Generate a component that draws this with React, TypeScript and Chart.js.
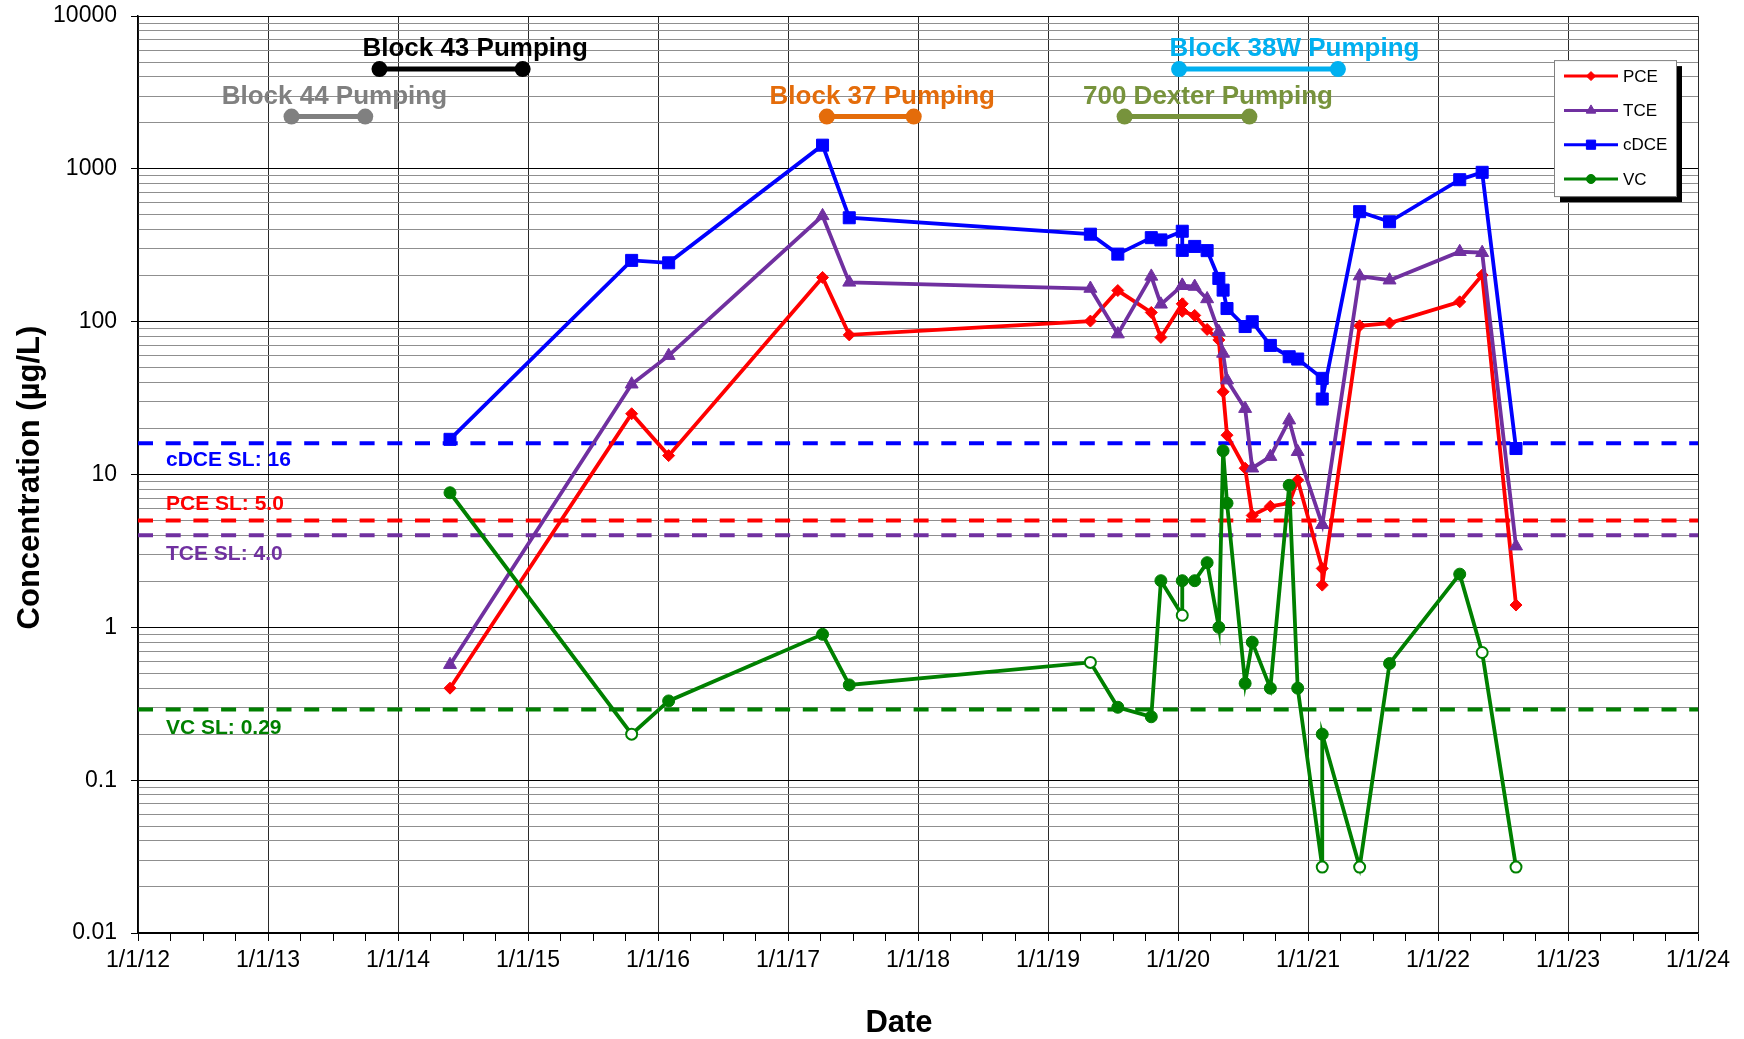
import React, { useEffect, useRef } from 'react';
import { Chart, registerables } from 'chart.js';
import { drawPoint } from 'chart.js/helpers';

Chart.register(...registerables);

// ---------------- DATA ----------------
const sampleDates = [
  '2014-05-27', '2015-10-19', '2016-01-31', '2017-04-08', '2017-06-22',
  '2019-04-30', '2019-07-16', '2019-10-18', '2019-11-14', '2020-01-13',
  '2020-01-13', '2020-02-17', '2020-03-23', '2020-04-25', '2020-05-07',
  '2020-05-18', '2020-07-08', '2020-07-28', '2020-09-17', '2020-11-09',
  '2020-12-03', '2021-02-10', '2021-02-10', '2021-05-26', '2021-08-18',
  '2022-03-03', '2022-05-05', '2022-08-08',
];

const pceValues = [0.4, 25, 13.3, 195, 82, 101, 160, 115, 79, 131, 117, 110, 89, 76, 34.8, 18.1, 11, 5.4, 6.2, 6.5, 9.2, 2.43, 1.89, 94, 98, 135, 202, 1.4];
const tceValues = [0.57, 39, 60, 493, 181, 165, 83, 198, 130, 173, 172, 170, 141, 86, 62, 41.5, 27, 11, 13.1, 22.7, 14.1, 4.7, 4.7, 199, 187, 287, 283, 3.4];
const cdceValues = [17, 252, 243, 1430, 479, 374, 277, 355, 343, 391, 293, 311, 292, 192, 161, 122, 93, 100, 70, 59, 57, 42.6, 31.2, 525, 451, 850, 950, 14.8];
const vcValues = [7.6, 0.2, 0.33, 0.9, 0.42, 0.59, 0.3, 0.26, 2.02, 1.2, 2.02, 2.02, 2.65, 1.0, 14.3, 6.5, 0.43, 0.8, 0.4, 8.5, 0.4, 0.027, 0.2, 0.027, 0.58, 2.23, 0.685, 0.027];
const vcDetected = [true, false, true, true, true, false, true, true, true, false, true, true, true, true, true, true, true, true, true, true, true, false, true, false, true, true, false, false];

const seriesNames = ['PCE', 'TCE', 'cDCE', 'VC'];

const slNames = ['cDCE SL: 16', 'PCE SL: 5.0', 'TCE SL: 4.0', 'VC SL: 0.29'];
const slValues = [16, 5.0, 4.0, 0.29];

const pumpNames = ['Block 44 Pumping', 'Block 43 Pumping', 'Block 37 Pumping', '700 Dexter Pumping', 'Block 38W Pumping'];
const pumpStart = ['2013-03-08', '2013-11-10', '2017-04-20', '2019-08-04', '2020-01-04'];
const pumpEnd = ['2013-10-01', '2014-12-17', '2017-12-20', '2020-07-20', '2021-03-26'];
const pumpLevel = [2200, 4500, 2200, 2200, 4500];

const xTickLabels = ['1/1/12', '1/1/13', '1/1/14', '1/1/15', '1/1/16', '1/1/17', '1/1/18', '1/1/19', '1/1/20', '1/1/21', '1/1/22', '1/1/23', '1/1/24'];
const yTickLabels = ['0.01', '0.1', '1', '10', '100', '1000', '10000'];

// ---------------- HELPERS / STYLES ----------------
const FONT = '"Liberation Sans", Arial, Helvetica, sans-serif';
const X_MIN = 2012;
const X_MAX = 2024;
const Y_MIN = 0.01;
const Y_MAX = 10000;

const toYear = (s: string) => {
  const [y, m, d] = s.split('-').map(Number);
  const t = Date.UTC(y, m - 1, d);
  const a = Date.UTC(y, 0, 1);
  const b = Date.UTC(y + 1, 0, 1);
  return y + (t - a) / (b - a);
};

const seriesStyles = [
  { color: '#FF0000', style: 'rectRot', radius: 6, legendRadius: 4.5, order: 4 },
  { color: '#7030A0', style: 'triangle', radius: 7.5, legendRadius: 5.5, order: 3 },
  { color: '#0000FF', style: 'rect', radius: 8.5, legendRadius: 6.5, order: 2 },
  { color: '#008000', style: 'circle', radius: 6, legendRadius: 4.5, order: 1 },
];
const seriesValues = [pceValues, tceValues, cdceValues, vcValues];
const slColors = ['#0000FF', '#FF0000', '#7030A0', '#008000'];
const slLabelOffsets = [17, -16, 19, 19];
const pumpColors = ['#808080', '#000000', '#E46C0A', '#77933C', '#00B0F0'];
const pumpLabelShift = [6, 24, 12, 21, 36];

const isDecade = (v: number) => Math.abs(Math.log10(v) - Math.round(Math.log10(v))) < 1e-6;

const overlayPlugin = {
  id: 'overlay',
  afterDatasetsDraw(chart: any) {
    const { ctx, chartArea } = chart;
    const x = chart.scales.x;
    const y = chart.scales.y;
    ctx.save();

    // screening level labels
    ctx.font = `bold 21px ${FONT}`;
    ctx.textBaseline = 'middle';
    ctx.textAlign = 'left';
    slNames.forEach((name, i) => {
      ctx.fillStyle = slColors[i];
      ctx.fillText(name, chartArea.left + 28, y.getPixelForValue(slValues[i]) + slLabelOffsets[i]);
    });

    // pumping labels
    ctx.font = `bold 26px ${FONT}`;
    ctx.textAlign = 'center';
    pumpNames.forEach((name, i) => {
      const x0 = x.getPixelForValue(toYear(pumpStart[i]));
      const x1 = x.getPixelForValue(toYear(pumpEnd[i]));
      const cx = (x0 + x1) / 2 + pumpLabelShift[i];
      const cy = y.getPixelForValue(pumpLevel[i]) - 20;
      ctx.fillStyle = pumpColors[i];
      ctx.fillText(name, cx, cy);
    });

    // legend
    const lx = chartArea.right - 144;
    const ly = chartArea.top + 44;
    const lw = 122;
    const lh = 136;
    ctx.fillStyle = '#000000';
    ctx.fillRect(lx + 6, ly + 6, lw, lh);
    ctx.fillStyle = '#FFFFFF';
    ctx.fillRect(lx, ly, lw, lh);
    ctx.strokeStyle = '#808080';
    ctx.lineWidth = 1;
    ctx.strokeRect(lx + 0.5, ly + 0.5, lw, lh);
    ctx.font = `17px ${FONT}`;
    ctx.textAlign = 'left';
    ctx.textBaseline = 'middle';
    seriesNames.forEach((name, i) => {
      const s = seriesStyles[i];
      const yy = ly + 16 + i * 34.3;
      ctx.strokeStyle = s.color;
      ctx.lineWidth = 3;
      ctx.beginPath();
      ctx.moveTo(lx + 10, yy);
      ctx.lineTo(lx + 64, yy);
      ctx.stroke();
      ctx.fillStyle = s.color;
      ctx.strokeStyle = s.color;
      ctx.lineWidth = 1;
      drawPoint(ctx, { pointStyle: s.style as any, radius: s.legendRadius, rotation: 0, borderWidth: 1 } as any, lx + 37, yy);
      ctx.fillStyle = '#000000';
      ctx.fillText(name, lx + 69, yy + 1);
    });

    ctx.restore();
  },
  afterDraw(chart: any) {
    const { ctx, chartArea } = chart;
    ctx.save();
    ctx.fillStyle = '#000000';
    ctx.font = `bold 31px ${FONT}`;
    ctx.textAlign = 'center';
    ctx.textBaseline = 'middle';
    ctx.fillText('Date', 899, 1023);
    ctx.translate(30, (chartArea.top + chartArea.bottom) / 2 + 3);
    ctx.rotate(-Math.PI / 2);
    ctx.fillText('Concentration (\u00b5g/L)', 0, 0);
    ctx.restore();
  },
};

export default function App() {
  const canvasRef = useRef<HTMLCanvasElement | null>(null);

  useEffect(() => {
    document.body.style.margin = '0';
    const canvas = canvasRef.current;
    if (!canvas) return;

    const datasets: any[] = [];

    // screening levels
    slValues.forEach((v, i) => {
      datasets.push({
        label: slNames[i],
        data: [{ x: X_MIN, y: v }, { x: X_MAX, y: v }],
        borderColor: slColors[i],
        borderWidth: 4,
        borderDash: [15, 12.7],
        pointRadius: 0,
        order: 20,
      });
    });

    // pumping periods
    pumpNames.forEach((name, i) => {
      datasets.push({
        label: name,
        data: [
          { x: toYear(pumpStart[i]), y: pumpLevel[i] },
          { x: toYear(pumpEnd[i]), y: pumpLevel[i] },
        ],
        borderColor: pumpColors[i],
        backgroundColor: pumpColors[i],
        borderWidth: 5,
        pointRadius: 8,
        pointBorderWidth: 0,
        pointBackgroundColor: pumpColors[i],
        order: 10,
      });
    });

    // concentration series
    seriesNames.forEach((name, i) => {
      const s = seriesStyles[i];
      const vals = seriesValues[i];
      const isVC = name === 'VC';
      datasets.push({
        label: name,
        data: sampleDates.map((d, k) => ({ x: toYear(d), y: vals[k] })),
        borderColor: s.color,
        backgroundColor: s.color,
        borderWidth: 3.8,
        pointStyle: s.style,
        pointRadius: isVC ? vcDetected.map((det) => (det ? s.radius : 5.5)) : s.radius,
        pointBackgroundColor: isVC ? vcDetected.map((det) => (det ? s.color : '#FFFFFF')) : s.color,
        pointBorderColor: s.color,
        pointBorderWidth: isVC ? vcDetected.map((det) => (det ? 1 : 2)) : 1,
        order: s.order,
      });
    });

    const chart = new Chart(canvas, {
      type: 'line',
      data: { datasets },
      plugins: [overlayPlugin],
      options: {
        animation: false,
        responsive: false,
        maintainAspectRatio: false,
        layout: { padding: { left: 0, right: 46, top: 16.1, bottom: 0 } },
        plugins: {
          legend: { display: false },
          tooltip: { enabled: false },
          title: { display: false },
        },
        scales: {
          x: {
            type: 'linear',
            min: X_MIN,
            max: X_MAX,
            afterBuildTicks: (scale: any) => {
              const ticks = [];
              for (let q = X_MIN * 4; q <= X_MAX * 4; q++) ticks.push({ value: q / 4 });
              scale.ticks = ticks;
            },
            afterFit: (scale: any) => {
              scale.height = 106;
            },
            ticks: {
              autoSkip: false,
              maxRotation: 0,
              minRotation: 0,
              padding: 6,
              color: '#000000',
              font: { family: FONT, size: 23 },
              callback: (v: any) => {
                const n = Number(v);
                return Number.isInteger(n) ? xTickLabels[n - X_MIN] : '';
              },
            },
            grid: {
              color: (ctx: any) => (ctx.tick && Number.isInteger(ctx.tick.value) ? '#2a2a2a' : 'rgba(0,0,0,0)'),
              tickColor: '#000000',
              tickLength: 8,
              lineWidth: 1,
            },
            border: { color: '#000000', width: 1.5 },
          },
          y: {
            type: 'logarithmic',
            min: Y_MIN,
            max: Y_MAX,
            afterBuildTicks: (scale: any) => {
              const ticks = [];
              for (let e = -2; e < 4; e++) {
                for (let m = 1; m <= 9; m++) ticks.push({ value: Number((m * Math.pow(10, e)).toPrecision(3)) });
              }
              ticks.push({ value: Y_MAX });
              scale.ticks = ticks;
            },
            afterFit: (scale: any) => {
              scale.width = 138;
            },
            ticks: {
              autoSkip: false,
              padding: 14,
              color: '#000000',
              font: { family: FONT, size: 23, lineHeight: 0.1 },
              callback: (v: any) => {
                const n = Number(v);
                return isDecade(n) ? yTickLabels[Math.round(Math.log10(n)) + 2] : '';
              },
            },
            grid: {
              color: (ctx: any) => (ctx.tick && isDecade(ctx.tick.value) ? '#000000' : '#8f8f8f'),
              tickColor: (ctx: any) => (ctx.tick && isDecade(ctx.tick.value) ? '#000000' : 'rgba(0,0,0,0)'),
              tickLength: 7,
              lineWidth: 1,
            },
            border: { color: '#000000', width: 1.5 },
          },
        },
      },
    });

    return () => {
      chart.destroy();
    };
  }, []);

  return (
    <div style={{ position: 'absolute', left: 0, top: 0, width: 1744, height: 1039, background: '#FFFFFF' }}>
      <canvas ref={canvasRef} width={1744} height={1039} style={{ display: 'block' }} />
    </div>
  );
}
